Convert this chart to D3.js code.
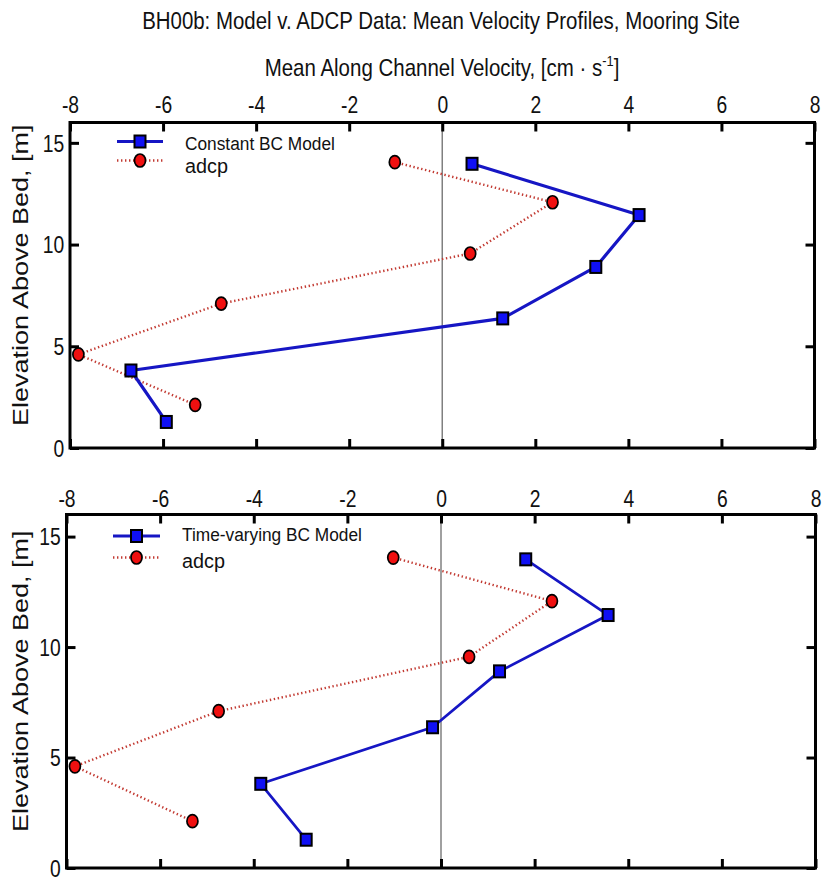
<!DOCTYPE html>
<html>
<head>
<meta charset="utf-8">
<script src="https://cdn.jsdelivr.net/npm/d3@7/dist/d3.min.js"></script>
<style>
  html, body { margin: 0; padding: 0; background: #fff; }
  svg { display: block; font-family: "Liberation Sans", Arial, sans-serif; }
</style>
</head>
<body>
<svg id="chart" width="825" height="880"></svg>
<script>
// Mean along-channel velocity profiles at the mooring site (cm/s vs elevation, m)
const modelElevation = [1.28, 3.81, 6.37, 8.90, 11.45, 13.97];
const constantBCVelocity = [-5.93, -6.69, 1.30, 3.30, 4.23, 0.64];
const timeVaryingBCVelocity = [-2.88, -3.85, -0.18, 1.25, 3.57, 1.81];

const adcpElevation = [2.12, 4.60, 7.10, 9.56, 12.08, 14.05];
const adcpVelocity = [-5.31, -7.82, -4.75, 0.60, 2.37, -1.02];

const xTickValues = [-8, -6, -4, -2, 0, 2, 4, 6, 8];
const yTickValues = [0, 5, 10, 15];
const xDomain = [-8, 8];
const yDomain = [0, 16];

const modelLabels = ["Constant BC Model", "Time-varying BC Model"];
const adcpLabel = "adcp";
const titleText = "BH00b: Model v. ADCP Data: Mean Velocity Profiles, Mooring Site";
const xAxisTitle = "Mean Along Channel Velocity, [cm \u00B7 s";
const yAxisTitle = "Elevation Above Bed, [m]";

const SQ = 0.84;               // horizontal glyph compression of the figure's type
const BLUE_LINE = "#1616c4";
const BLUE_FILL = "#1010f4";
const RED_LINE = "#c23a32";
const RED_FILL = "#f01010";

const svg = d3.select("#chart");

// Place a text so that it spans a given width (narrow, condensed type).
function fitText(parent, x, y, width, size, anchor, build) {
  const t = parent.append("text")
    .attr("text-anchor", anchor)
    .attr("font-size", size)
    .attr("fill", "#111");
  build(t);
  const w = t.node().getBBox().width;
  t.attr("transform", `translate(${x},${y}) scale(${width / w},1)`);
  return t;
}

// figure title and shared x-axis title
fitText(svg, 441, 29, 598, 24, "middle", t => t.text(titleText));
fitText(svg, 442, 76, 355, 24, "middle", t => {
  t.append("tspan").text(xAxisTitle);
  t.append("tspan").attr("font-size", 15).attr("dy", -10).text("-1");
  t.append("tspan").attr("dy", 10).text("]");
});

const panels = [
  { left: 70, right: 814.5, top: 122.5, bottom: 448, labelBase: 113,
    velocity: constantBCVelocity, name: modelLabels[0], nameWidth: 150, lineWidth: 3.2,
    legend: { x0: 117, x1: 163, y1: 141.5, y2: 160.5, tx: 185, t1: 149.5, t2: 173 } },
  { left: 66.5, right: 815.5, top: 514.5, bottom: 868, labelBase: 507,
    velocity: timeVaryingBCVelocity, name: modelLabels[1], nameWidth: 180, lineWidth: 2.7,
    legend: { x0: 113, x1: 160, y1: 536, y2: 557.5, tx: 182, t1: 541, t2: 568 } }
];

function drawSquare(g, cx, cy) {
  g.append("rect")
    .attr("x", cx - 5.5).attr("y", cy - 6)
    .attr("width", 11).attr("height", 12)
    .attr("fill", BLUE_FILL).attr("stroke", "#000").attr("stroke-width", 2);
}
function drawCircle(g, cx, cy) {
  g.append("ellipse")
    .attr("cx", cx).attr("cy", cy).attr("rx", 5.5).attr("ry", 6.5)
    .attr("fill", RED_FILL).attr("stroke", "#000").attr("stroke-width", 1.7);
}

const tickText = d => String(d);

panels.forEach(p => {
  const x = d3.scaleLinear().domain(xDomain).range([p.left, p.right]);
  const y = d3.scaleLinear().domain(yDomain).range([p.bottom, p.top]);
  const g = svg.append("g");

  // zero-velocity reference line
  g.append("line")
    .attr("x1", x(0)).attr("x2", x(0))
    .attr("y1", p.top).attr("y2", p.bottom)
    .attr("stroke", "#808080").attr("stroke-width", 1.5);

  // ADCP observations: dotted line with red circles
  const adcpPts = adcpVelocity.map((v, i) => [x(v), y(adcpElevation[i])]);
  g.append("path")
    .attr("d", d3.line()(adcpPts))
    .attr("fill", "none").attr("stroke", RED_LINE)
    .attr("stroke-width", 2.4).attr("stroke-dasharray", "1.4,2.6");
  adcpPts.forEach(([cx, cy]) => drawCircle(g, cx, cy));

  // model profile: solid line with blue squares
  const modelPts = p.velocity.map((v, i) => [x(v), y(modelElevation[i])]);
  g.append("path")
    .attr("d", d3.line()(modelPts))
    .attr("fill", "none").attr("stroke", BLUE_LINE)
    .attr("stroke-width", p.lineWidth).attr("stroke-linejoin", "round");
  modelPts.forEach(([cx, cy]) => drawSquare(g, cx, cy));

  // axes with inward ticks on all four sides
  const tickLen = -9;
  const top = g.append("g").attr("transform", `translate(0,${p.top})`)
    .call(d3.axisTop(x).tickValues(xTickValues).tickSize(tickLen)
      .tickPadding(p.top - p.labelBase).tickFormat(tickText));
  const bottom = g.append("g").attr("transform", `translate(0,${p.bottom})`)
    .call(d3.axisBottom(x).tickValues(xTickValues).tickSize(tickLen).tickFormat(""));
  const left = g.append("g").attr("transform", `translate(${p.left},0)`)
    .call(d3.axisLeft(y).tickValues(yTickValues).tickSize(tickLen).tickPadding(7)
      .tickFormat(tickText));
  const right = g.append("g").attr("transform", `translate(${p.right},0)`)
    .call(d3.axisRight(y).tickValues(yTickValues).tickSize(tickLen).tickFormat(""));

  [top, bottom, left, right].forEach(a => {
    a.select(".domain").remove();
    a.selectAll(".tick line").attr("stroke", "#000").attr("stroke-width", 3);
    a.selectAll(".tick text")
      .attr("font-family", "Liberation Sans, Arial, sans-serif")
      .attr("font-size", 23).attr("fill", "#111")
      .attr("transform", `scale(${SQ},1)`);
  });
  top.selectAll(".tick text").attr("dy", "0");
  left.selectAll(".tick text").attr("dy", "0.36em");

  g.append("rect")
    .attr("x", p.left).attr("y", p.top)
    .attr("width", p.right - p.left).attr("height", p.bottom - p.top)
    .attr("fill", "none").attr("stroke", "#000").attr("stroke-width", 3);

  // y-axis title
  svg.append("text")
    .attr("transform", `translate(28,${(p.top + p.bottom) / 2 - 10}) rotate(-90) scale(1,0.8)`)
    .attr("text-anchor", "middle")
    .attr("font-size", 27).attr("fill", "#111")
    .text(yAxisTitle);

  // legend
  const L = p.legend;
  const lg = svg.append("g");
  lg.append("line").attr("x1", L.x0).attr("x2", L.x1).attr("y1", L.y1).attr("y2", L.y1)
    .attr("stroke", BLUE_LINE).attr("stroke-width", 3);
  drawSquare(lg, (L.x0 + L.x1) / 2, L.y1);
  lg.append("line").attr("x1", L.x0).attr("x2", L.x1).attr("y1", L.y2).attr("y2", L.y2)
    .attr("stroke", RED_LINE).attr("stroke-width", 2.4).attr("stroke-dasharray", "1.4,2.6");
  drawCircle(lg, (L.x0 + L.x1) / 2, L.y2);
  fitText(lg, L.tx, L.t1, p.nameWidth, 19, "start", t => t.text(p.name));
  fitText(lg, L.tx, L.t2, 43, 21, "start", t => t.text(adcpLabel));
});
</script>
</body>
</html>
